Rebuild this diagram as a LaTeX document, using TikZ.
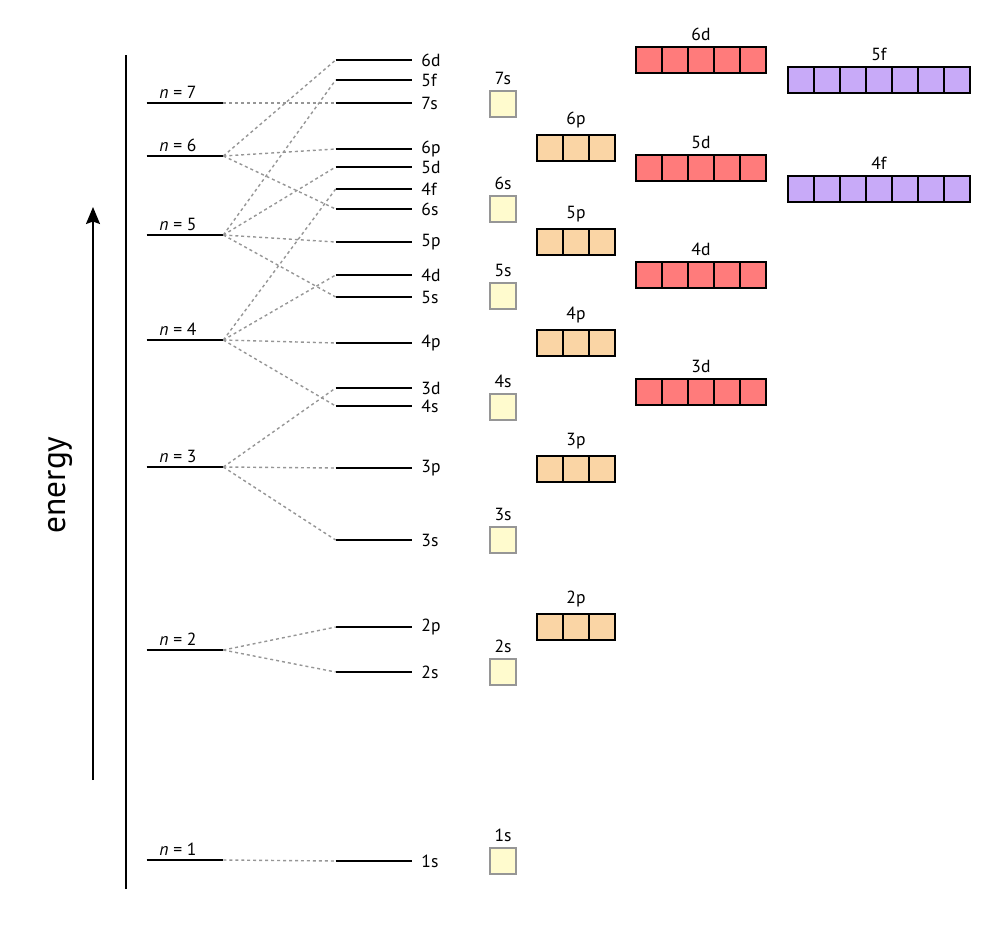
\documentclass[tikz,border=0pt]{standalone}
\usepackage{fontspec}
\setmainfont{PT Sans}
\usepackage{tikz}
\usetikzlibrary{arrows.meta,positioning}
\definecolor{sfill}{RGB}{255,251,206}
\definecolor{sedge}{RGB}{150,150,150}
\definecolor{pfill}{RGB}{250,213,165}
\definecolor{dfill}{RGB}{255,123,123}
\definecolor{ffill}{RGB}{200,170,248}
\definecolor{dashgray}{RGB}{150,150,150}
\tikzstyle{enline} = [inner sep=0pt, minimum width=1.52cm, minimum height=0pt,
    append after command={(\tikzlastnode.west) edge[line width=1pt] (\tikzlastnode.east)}]
\tikzstyle{lvltext} = [font=\fontsize{10}{12}\selectfont, inner sep=2pt]
\tikzstyle{link} = [draw, dashgray, line width=0.8pt, dash pattern=on 1.7pt off 1.7pt]
\tikzstyle{cell} = [rectangle, draw, line width=1.1pt, inner sep=0pt, minimum size=0.52cm]
\tikzstyle{scell} = [cell, draw=sedge, fill=sfill]
\tikzstyle{pcell} = [cell, fill=pfill]
\tikzstyle{dcell} = [cell, fill=dfill]
\tikzstyle{fcell} = [cell, fill=ffill]
\tikzstyle{boxlabel} = [font=\fontsize{10}{12}\selectfont, inner sep=2pt]

\begin{document}
\begin{tikzpicture}[x=0.02cm, y=-0.02cm]
    \useasboundingbox (0,0) rectangle (1000,931);

    % energy axis
    \coordinate (axtop) at (126,55);
    \coordinate (axbot) at (126,889);
    \draw [line width=1pt] (axbot) -- (axtop);
    \coordinate (arrbot) at (93,780);
    \coordinate (arrtop) at (93,207);
    \draw [line width=1pt, -{Stealth[length=3.4mm, width=2.8mm, inset=0.5mm]}] (arrbot) -- (arrtop);
    \node [rotate=90, font=\fontsize{19}{21}\selectfont] (energy) at (60,485) {energy};

    % shells
    \foreach \k/\y in {1/860, 2/650, 3/467, 4/340, 5/235, 6/156, 7/103}
        \node [enline, label={[lvltext, xshift=-4pt]above:{\textit{n} = \k}}] (n\k) at (185,\y) {};

    % subshells
    \foreach \s/\y in {1s/861, 2s/672, 2p/627, 3s/540, 3p/468, 3d/388, 4s/406, 4p/343,
                       4d/275, 4f/189, 5s/297, 5p/242, 5d/167, 5f/80, 6s/209, 6p/149,
                       6d/60, 7s/103}
        \node [enline, label={[lvltext, label distance=3pt]right:\s}] (l\s) at (374,\y) {};

    \foreach \a/\b in {1/1s, 2/2s, 2/2p, 3/3s, 3/3p, 3/3d, 4/4s, 4/4p, 4/4d, 4/4f,
                       5/5s, 5/5p, 5/5d, 5/5f, 6/6s, 6/6p, 6/6d, 7/7s}
        \path [link] (n\a.east) -- (l\b.west);

    % orbital boxes
    \foreach \s/\y in {1s/861, 2s/672, 3s/540, 4s/407, 5s/296, 6s/209, 7s/104} {
        \node [scell] (b\s-1) at (503,\y) {};
        \node [boxlabel, above=1pt of b\s-1] (t\s) {\s};
    }
    \foreach \s/\y in {2p/627, 3p/469, 4p/343, 5p/242, 6p/148} {
        \foreach \i in {1,2,3}
            \node [pcell] (b\s-\i) at ({524+26*\i},\y) {};
        \node [boxlabel, above=1pt of b\s-2] (t\s) {\s};
    }
    \foreach \s/\y in {3d/392, 4d/275, 5d/168, 6d/60} {
        \foreach \i in {1,...,5}
            \node [dcell] (b\s-\i) at ({623+26*\i},\y) {};
        \node [boxlabel, above=1pt of b\s-3] (t\s) {\s};
    }
    \foreach \s/\y in {4f/189, 5f/80} {
        \foreach \i in {1,...,7}
            \node [fcell] (b\s-\i) at ({775+26*\i},\y) {};
        \node [boxlabel, above=1pt of b\s-4] (t\s) {\s};
    }
\end{tikzpicture}
\end{document}
